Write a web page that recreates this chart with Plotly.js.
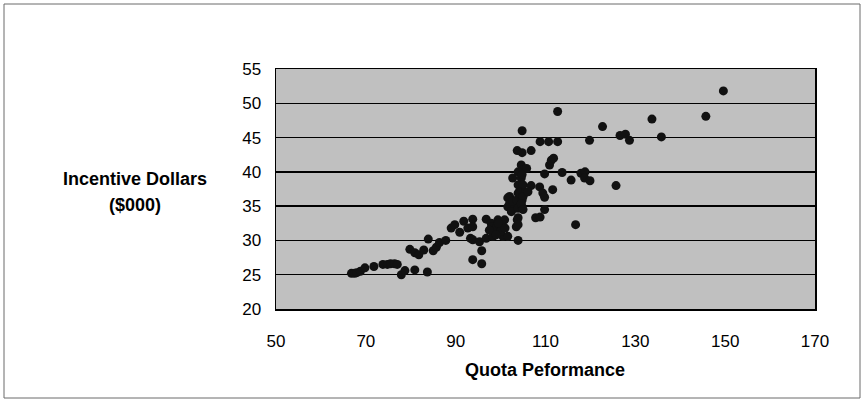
<!DOCTYPE html>
<html>
<head>
<meta charset="utf-8">
<script src="https://cdn.plot.ly/plotly-3.0.1.min.js"></script>
<style>
  html, body { margin: 0; padding: 0; background: #ffffff; }
  #chart { width: 864px; height: 402px; }
</style>
</head>
<body>
<div id="chart"></div>
<script>
// Quota performance (x) vs incentive dollars in $000 (y)
const quotaPerformance = [
  66.8, 67.5, 68.0, 68.8, 69.8, 71.8, 73.8, 74.8, 75.5, 76.4, 77.0, 77.9, 78.7, 80.9, 83.7,
  79.8, 80.9, 81.8, 82.9, 83.9, 85.0, 85.7, 86.4, 87.8, 89.0, 89.8, 90.9, 91.8, 92.7, 93.8,
  93.8, 93.3, 93.8, 95.8, 93.8, 95.8, 95.3, 96.8,
  96.8, 97.9, 98.7, 98.3, 99.4, 100.2, 100.5, 100.9, 101.6, 98.0, 99.0, 99.5, 100.0, 101.0, 97.5, 99.0,
  102.0, 102.4, 101.6, 102.0, 102.4, 101.6, 103.1, 102.7, 102.4,
  103.5, 103.7, 103.9, 103.9, 103.6, 103.9, 103.9, 103.9,
  104.8, 103.7, 104.8, 106.8, 104.6, 105.0, 103.9, 102.7, 104.6, 103.9, 105.0, 104.2, 105.8, 104.8,
  104.2, 105.6, 104.8, 104.8, 105.0, 104.6, 105.0,
  106.8, 106.1, 108.7, 109.4, 109.8, 111.6, 109.8, 107.8, 108.8, 109.8,
  108.8, 110.7, 112.7, 112.7, 110.9, 111.3, 111.8,
  113.7, 115.7, 117.9, 118.8, 118.7, 119.9, 116.7,
  122.7, 119.8, 126.6, 127.8, 128.7, 125.7, 133.7, 135.8, 145.7, 149.6
];
const incentiveDollars = [
  25.2, 25.2, 25.3, 25.5, 26.0, 26.2, 26.5, 26.5, 26.6, 26.6, 26.5, 25.0, 25.6, 25.7, 25.4,
  28.7, 28.2, 27.9, 28.6, 30.2, 28.5, 29.0, 29.7, 30.0, 31.8, 32.3, 31.2, 32.8, 31.8, 33.1,
  32.0, 30.3, 30.1, 28.5, 27.2, 26.6, 29.8, 30.3,
  33.1, 32.5, 31.5, 30.6, 33.0, 32.0, 30.6, 33.0, 30.6, 32.0, 31.8, 32.5, 31.3, 31.8, 31.5, 30.8,
  36.4, 35.2, 36.2, 35.4, 34.7, 34.9, 34.7, 35.7, 34.2,
  32.0, 33.0, 30.0, 36.9, 35.9, 34.7, 33.3, 32.3,
  46.0, 43.1, 42.8, 43.1, 41.0, 40.3, 40.0, 39.1, 39.1, 38.1, 38.1, 37.1, 40.5, 39.6,
  36.9, 37.0, 35.9, 34.9, 36.4, 35.4, 34.5,
  38.0, 37.1, 37.8, 36.9, 36.3, 37.4, 34.5, 33.3, 33.4, 39.7,
  44.4, 44.4, 44.4, 48.8, 41.0, 41.7, 42.0,
  39.9, 38.8, 39.8, 40.0, 39.1, 38.7, 32.3,
  46.6, 44.6, 45.3, 45.5, 44.6, 38.0, 47.7, 45.1, 48.1, 51.8
];
const xTickValues = [50, 70, 90, 110, 130, 150, 170];
const yTickValues = [20, 25, 30, 35, 40, 45, 50, 55];
const xTitle = 'Quota Peformance';
const yTitleLines = ['Incentive Dollars', '($000)'];

const font = 'Liberation Sans, Arial, Helvetica, sans-serif';

const M = {l: 276, r: 49, t: 69, b: 93};
const W = 864, H = 402;
const pw = W - M.l - M.r, ph = H - M.t - M.b;
const px = v => (v - M.l) / pw;          // pixel x -> paper x
const py = v => (H - M.b - v) / ph;      // pixel y -> paper y

const trace = {
  type: 'scatter',
  mode: 'markers',
  x: quotaPerformance,
  y: incentiveDollars,
  marker: {size: 9, color: '#111111', line: {width: 0}},
  hoverinfo: 'x+y'
};

const layout = {
  width: W, height: H,
  margin: M,
  paper_bgcolor: '#ffffff',
  plot_bgcolor: '#c0c0c0',
  showlegend: false,
  font: {family: font, size: 17, color: '#000000'},
  xaxis: {
    range: [50, 170],
    tickvals: xTickValues,
    ticktext: xTickValues.map(String),
    showgrid: false,
    zeroline: false,
    showline: true, linecolor: '#000000', linewidth: 1.5, mirror: true,
    ticks: '', ticklabelstandoff: 16,
    tickfont: {family: font, size: 17, color: '#000000'},
    fixedrange: true
  },
  yaxis: {
    range: [20, 55],
    tickvals: yTickValues,
    ticktext: yTickValues.map(String),
    showgrid: true, gridcolor: '#000000', gridwidth: 1.5,
    zeroline: false,
    showline: true, linecolor: '#000000', linewidth: 1.5, mirror: true,
    ticks: '', ticklabelstandoff: 10,
    tickfont: {family: font, size: 17, color: '#000000'},
    fixedrange: true
  },
  annotations: [
    {xref: 'paper', yref: 'paper', x: px(545), y: py(370), xanchor: 'center', yanchor: 'middle',
     text: '<b>' + xTitle + '</b>', showarrow: false, font: {family: font, size: 18, color: '#000000'}},
    {xref: 'paper', yref: 'paper', x: px(135), y: py(179), xanchor: 'center', yanchor: 'middle',
     text: '<b>' + yTitleLines[0] + '</b>', showarrow: false, font: {family: font, size: 18, color: '#000000'}},
    {xref: 'paper', yref: 'paper', x: px(135), y: py(205), xanchor: 'center', yanchor: 'middle',
     text: '<b>' + yTitleLines[1] + '</b>', showarrow: false, font: {family: font, size: 18, color: '#000000'}}
  ],
  shapes: [
    {type: 'rect', xref: 'paper', yref: 'paper', layer: 'below',
     x0: px(4), x1: px(860), y0: py(398), y1: py(4),
     line: {color: '#6a6a6a', width: 1}, fillcolor: 'rgba(0,0,0,0)'}
  ]
};

Plotly.newPlot('chart', [trace], layout, {displayModeBar: false, staticPlot: true});
</script>
</body>
</html>
